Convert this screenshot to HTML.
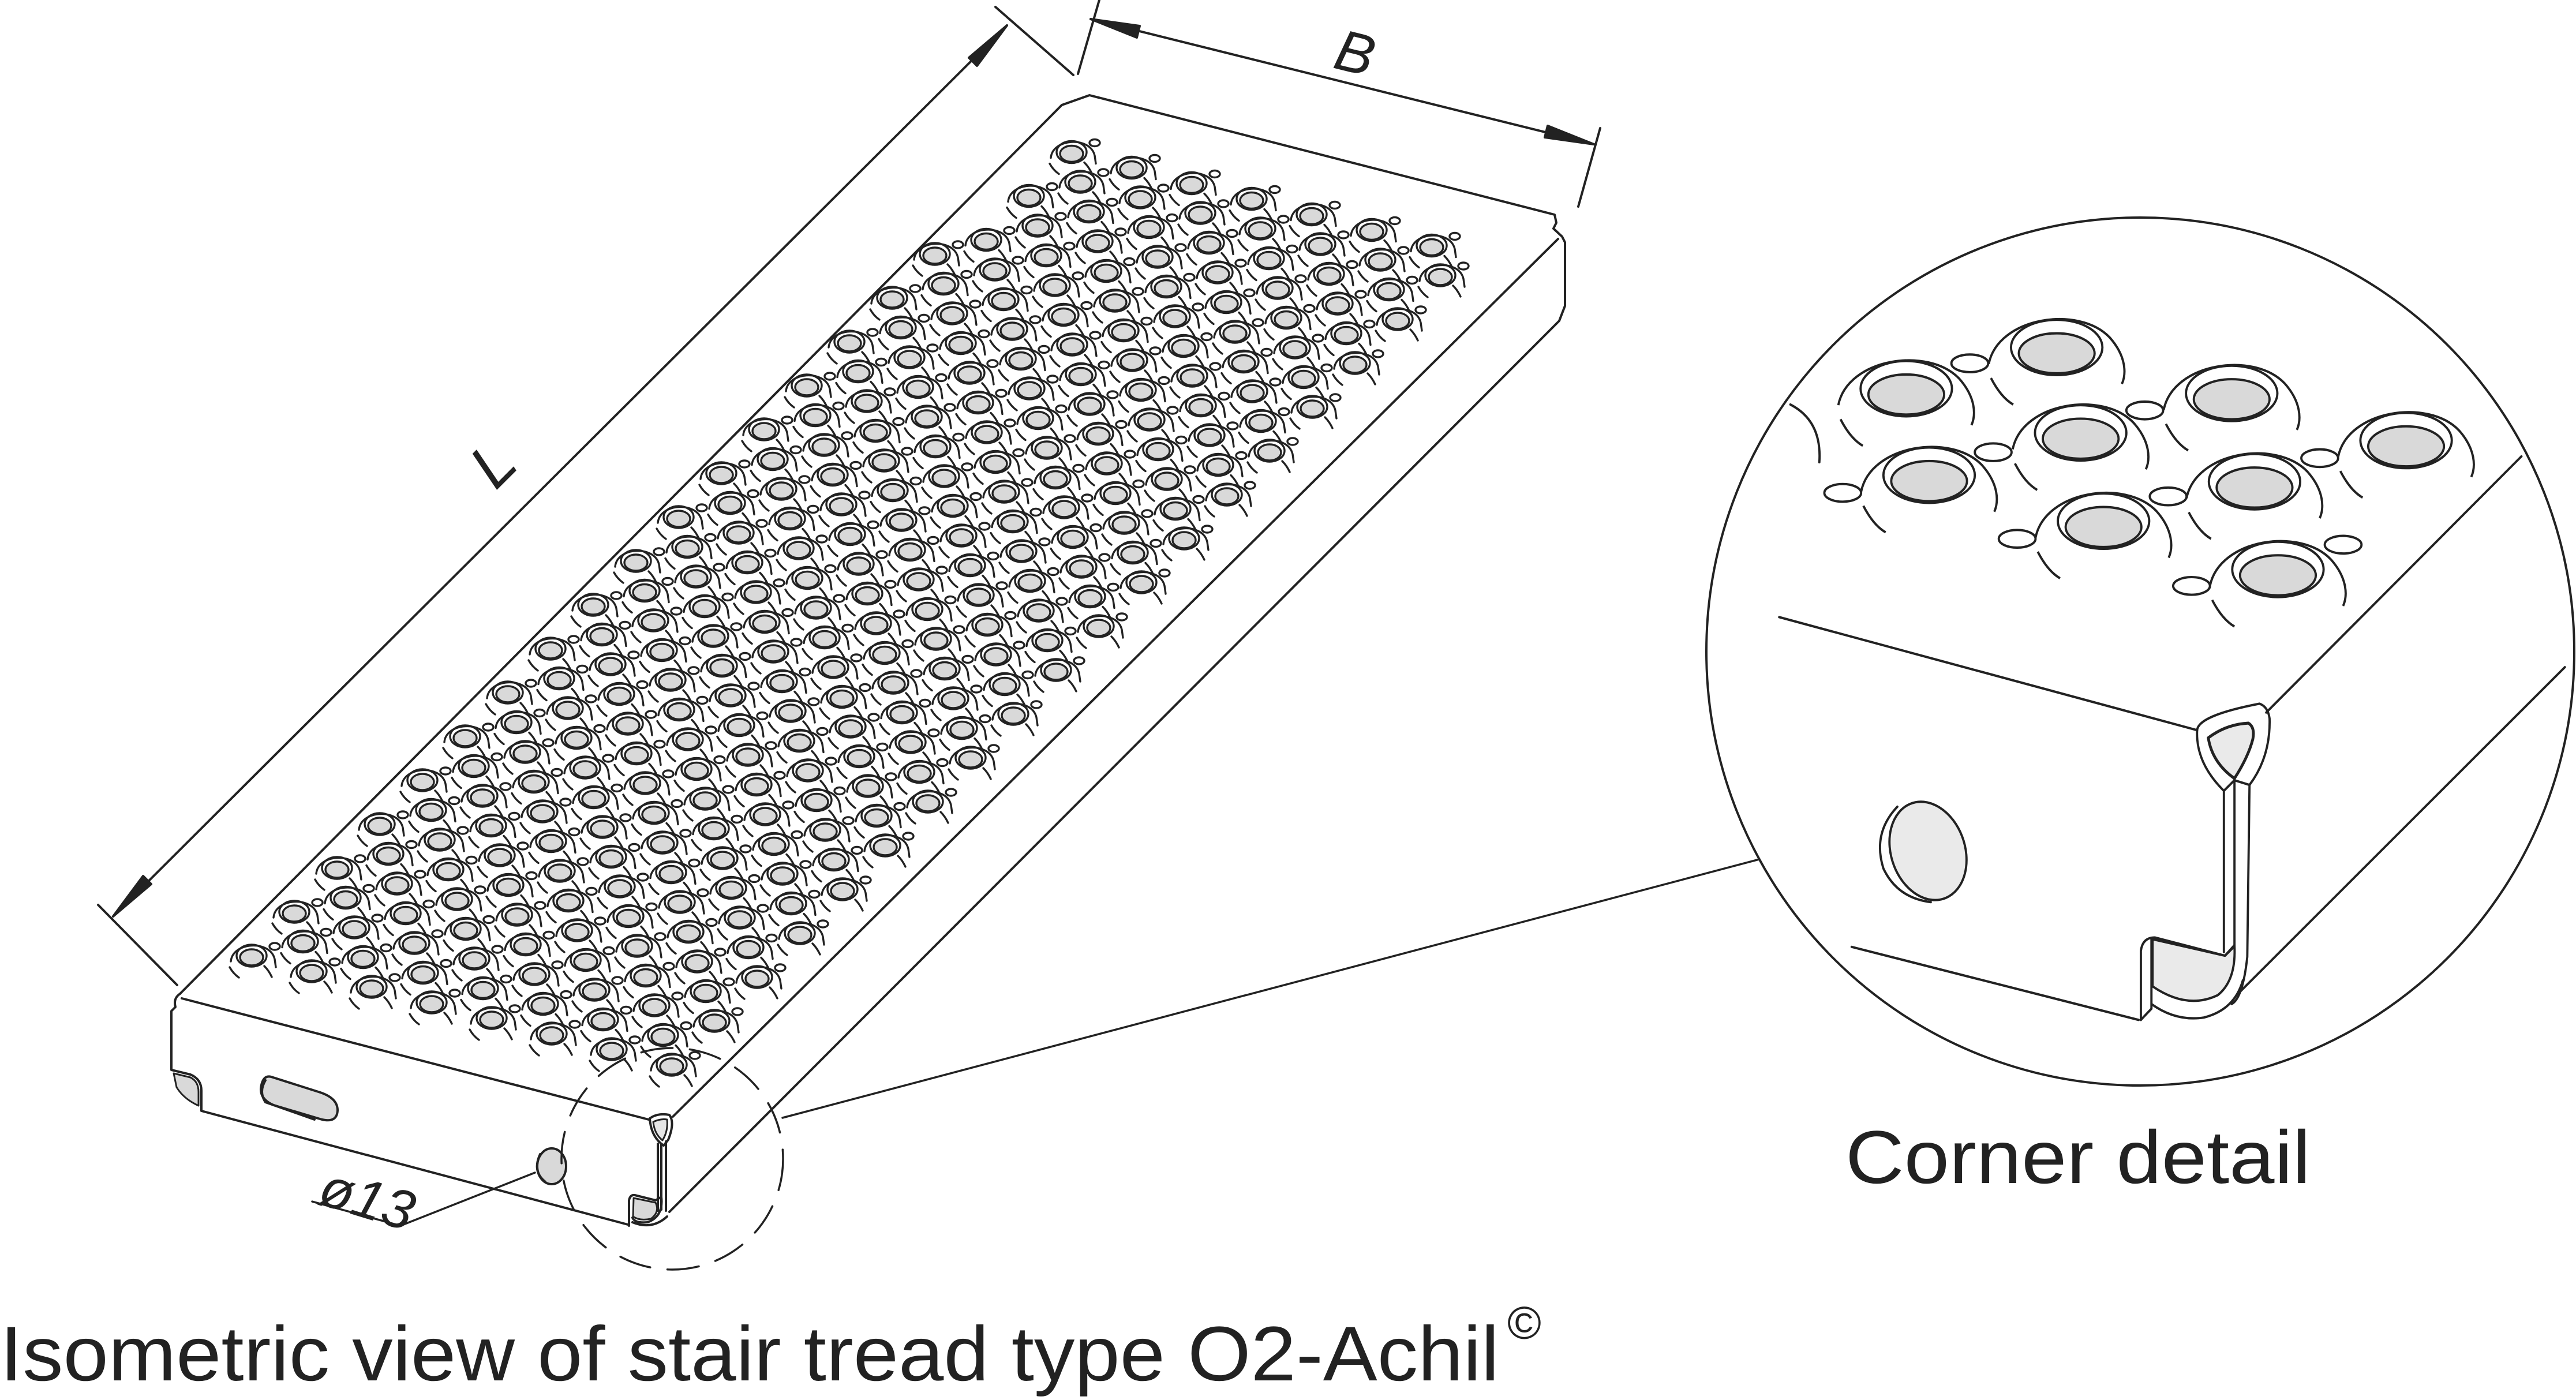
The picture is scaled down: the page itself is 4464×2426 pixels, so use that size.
<!DOCTYPE html>
<html><head><meta charset="utf-8">
<style>
html,body{margin:0;padding:0;background:#fff;}
svg{display:block;}
text{font-family:"Liberation Sans",sans-serif;fill:#222;}
</style></head>
<body>
<svg id="s" width="4464" height="2426" viewBox="0 0 4464 2426" xmlns="http://www.w3.org/2000/svg">
<g fill="none" stroke="#222" stroke-width="4" stroke-linejoin="round" stroke-linecap="round">
  <line x1="307" y1="1707" x2="170" y2="1568"/>
  <line x1="1860" y1="130" x2="1725" y2="12"/>
  <line x1="196" y1="1588" x2="1745" y2="44"/>
  <polygon points="196,1588 248,1518 262,1532" fill="#222"/>
  <polygon points="1745,44 1679,100 1693,114" fill="#222"/>
  <line x1="1868" y1="128" x2="1905" y2="0"/>
  <line x1="2735" y1="358" x2="2773" y2="222"/>
  <line x1="1890" y1="33" x2="2762" y2="250"/>
  <polygon points="1890,33 1975,45 1970,65" fill="#222"/>
  <polygon points="2762,250 2677,238 2682,218" fill="#222"/>

  <path d="M312,1722 L1840,182 L1888,165 L2694,372 L2697,386 L2692,396 L2707,410 L2712,420 L2712,530 L2702,556 L1160,2100"/>
  <path d="M2700,414 L1166,1935"/>
  <path d="M315,1730 L1124,1940"/>
  <path d="M312,1722 Q300,1730 304,1745 L297,1752 L297,1854 L330,1862 Q349,1870 349,1890 L349,1925 L1088,2122"/>
  <path d="M301,1860 L330,1867 Q344,1874 344,1892 L344,1916 Q318,1904 306,1884 Z" fill="#d9d9d9" stroke-width="3"/>
  <path d="M470,1866 L555,1893 Q585,1903 585,1924 Q584,1946 558,1940 L474,1915 Q451,1905 452,1886 Q455,1862 470,1866 Z" fill="#d9d9d9"/>
  <path d="M460,1872 Q448,1892 460,1910 L545,1940"/>
  <ellipse cx="956" cy="2021" rx="25" ry="31" fill="#d9d9d9"/>
  <path d="M936,2000 Q922,2030 945,2048"/>
  <path d="M1126,1938 Q1140,1928 1160,1932 Q1170,1945 1158,1975 L1150,1985 Q1128,1970 1126,1938 Z"/>
  <path d="M1132,1944 Q1145,1938 1156,1940 Q1158,1960 1148,1976 Q1134,1965 1132,1944 Z" fill="#e6e6e6" stroke-width="3"/>
  <path d="M1140,1982 L1140,2098 M1146,1982 L1146,2096 M1154,1978 L1154,2098"/>
  <path d="M1090,2124 L1090,2080 Q1092,2070 1100,2071 L1136,2080 L1146,2074 Q1150,2108 1122,2118 Q1100,2120 1096,2110" />
  <path d="M1098,2076 L1136,2084 Q1144,2100 1128,2112 Q1108,2116 1097,2108 Z" fill="#d9d9d9" stroke-width="3"/>
  <path d="M1096,2118 Q1130,2132 1156,2108"/>
  <circle cx="1165" cy="2008" r="192" stroke-dasharray="55 30" stroke-width="3.5"/>
  <line x1="1356" y1="1937" x2="3049" y2="1489" stroke-width="3.5"/>
  <polyline points="541,2082 694,2124 927,2032" stroke-width="3.5"/>

  <circle cx="3709" cy="1129" r="752" stroke-width="4"/>
  <g transform="translate(2950,250) scale(0.9656,1.0204)" stroke-width="4">
    <path d="M138,803 L888,995"/>
    <path d="M1012,965 L1470,530"/>
    <path d="M158,442 Q215,470 210,540"/>
    <path d="M888,995 Q890,970 1000,950 Q1015,955 1018,975 Q1020,1040 982,1088 L978,1380 Q970,1450 950,1460"/>
    <path d="M888,995 Q885,1050 936,1098 L936,1372"/>
    <path d="M908,1008 Q940,985 980,983 Q992,990 988,1010 Q980,1040 955,1077 Q915,1050 908,1008 Z" fill="#eaeaea" stroke-width="5"/>
    <path d="M955,1077 L955,1375 M936,1098 L955,1080 L982,1088"/>
    <path d="M268,1363 L783,1487"/>
    <path d="M962,1442 L1548,888"/>
    <path d="M787,1487 L787,1370 Q790,1347 812,1347 L938,1378 L955,1360"/>
    <path d="M808,1350 L938,1378 L955,1362 Q958,1420 925,1445 Q870,1470 808,1430 Z" fill="#eaeaea"/>
    <path d="M787,1487 L806,1468 L806,1350 M806,1460 Q850,1490 900,1483 Q955,1470 970,1420"/>
    <ellipse cx="405" cy="1200" rx="66" ry="86" transform="rotate(-22 405 1200)" fill="#eaeaea"/>
    <path d="M350,1125 Q305,1170 325,1230 Q350,1280 410,1287"/>
  </g>
</g>
<g id="holes" fill="none" stroke="#222" stroke-width="3.4" stroke-linecap="round"></g>
<g id="bholes" fill="none" stroke="#222" stroke-width="4" transform="translate(2950,250) scale(0.9656,1.0204)"></g>

<text x="0" y="0" font-size="108" font-style="italic" transform="translate(880,830) rotate(-45)" text-anchor="middle">L</text>
<text x="0" y="0" font-size="100" font-style="italic" transform="translate(2340,125) rotate(14)" text-anchor="middle">B</text>
<text x="0" y="0" font-size="96" font-style="italic" transform="translate(548,2085) rotate(17)">ø13</text>
<text x="3198" y="2050" font-size="130" textLength="806" lengthAdjust="spacingAndGlyphs">Corner detail</text>
<text x="0" y="2392" font-size="134" textLength="2598" lengthAdjust="spacingAndGlyphs">Isometric view of stair tread type O2-Achil</text>
<text x="2612" y="2320" font-size="80">©</text>
</svg>
<script>
(function(){
var NS="http://www.w3.org/2000/svg";
function el(p,tag,at){var e=document.createElementNS(NS,tag);for(var k in at)e.setAttribute(k,at[k]);p.appendChild(e);return e;}
function P(x,y){return (Math.round(x*10)/10)+","+(Math.round(y*10)/10);}
var g=document.getElementById("holes");
var FL=[312,1720],e1=[848,215],e2=[1558,-1548];
var det=e1[0]*e2[1]-e2[0]*e1[1];
var P0=[1164,1847],u=[104,27],w=[15,51.5];
for(var i=-45;i<=45;i++){for(var j=-45;j<=6;j++){
 var x=P0[0]+i*u[0]+j*w[0],y=P0[1]+i*u[1]+j*w[1];
 var rx=x-FL[0],ry=y-FL[1];
 var a=(rx*e2[1]-e2[0]*ry)/det,b=(e1[0]*ry-e1[1]*rx)/det;
 if(a<0.02||a>0.935||b<0.035||b>0.97)continue;
 el(g,"path",{d:"M"+P(x-36,y+8)+" C"+P(x-33,y-26)+" "+P(x+32,y-30)+" "+P(x+40,y+4)+" L"+P(x+42,y+18)});
 el(g,"ellipse",{cx:x,cy:y-2,rx:26,ry:19});
 el(g,"ellipse",{cx:x,cy:y+1,rx:20,ry:14,fill:"#d9d9d9"});
 el(g,"ellipse",{cx:x+40,cy:y-18,rx:9,ry:6});
 el(g,"path",{d:"M"+P(x-38,y+18)+" Q"+P(x-32,y+29)+" "+P(x-22,y+36)});
 el(g,"path",{d:"M"+P(x+22,y+16)+" Q"+P(x+30,y+24)+" "+P(x+35,y+35)});
}}
var bg=document.getElementById("bholes");
var H=[[366,425],[636,355],[950,433],[679,500],[1263,513],[407,572],[991,583],[720,650],[1033,732]];
H.forEach(function(h){var x=h[0],y=h[1];
 el(bg,"ellipse",{cx:x,cy:y-10,rx:82,ry:47});
 el(bg,"ellipse",{cx:x,cy:y,rx:68,ry:34,fill:"#d9d9d9"});
 el(bg,"path",{d:"M"+(x-122)+","+(y+18)+" C"+(x-105)+","+(y-62)+" "+(x+40)+","+(y-82)+" "+(x+95)+","+(y-27)+" C"+(x+125)+","+(y+5)+" "+(x+125)+","+(y+35)+" "+(x+117)+","+(y+52)});
 el(bg,"path",{d:"M"+(x-118)+","+(y+42)+" Q"+(x-100)+","+(y+75)+" "+(x-78)+","+(y+87)});
});
[[480,372],[794,452],[522,523],[252,592],[836,598],[1108,533],[565,670],[1150,680],[878,750]].forEach(function(s){
 el(bg,"ellipse",{cx:s[0],cy:s[1],rx:33,ry:15});});
})();
</script>
</body></html>
